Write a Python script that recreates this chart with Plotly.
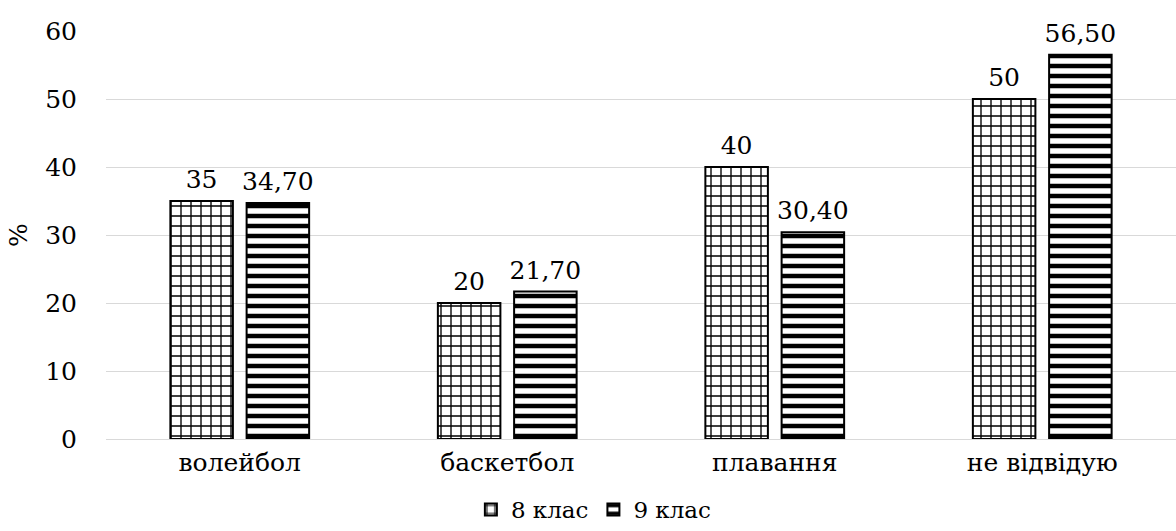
import plotly.graph_objects as go

# Sports sections attended, by grade (%)
categories = ["волейбол", "баскетбол", "плавання", "не відвідую"]
grade8 = [35, 20, 40, 50]
grade9 = [34.70, 21.70, 30.40, 56.50]
series_names = ["8 клас", "9 клас"]
y_ticks = [0, 10, 20, 30, 40, 50, 60]

FONT = "DejaVu Serif"
GAP = 0.43

fig = go.Figure()
fig.add_trace(go.Bar(
    name=series_names[0], x=categories, y=grade8, offsetgroup="g8",
    marker=dict(color="white", line=dict(color="black", width=2),
                pattern=dict(shape="+", fgcolor="black", bgcolor="white",
                             fgopacity=1, size=10, solidity=0.25,
                             fillmode="overlay")),
))
fig.add_trace(go.Bar(
    name=series_names[1], x=categories, y=grade9, offsetgroup="g9",
    marker=dict(color="white", line=dict(color="black", width=2),
                pattern=dict(shape="-", fgcolor="black", bgcolor="white",
                             fgopacity=1, size=10, solidity=0.45,
                             fillmode="overlay")),
))

# value labels above each bar
for vals, grp, fmt in [(grade8, "g8", "%{y}"), (grade9, "g9", "%{y:.2f}")]:
    fig.add_trace(go.Scatter(
        x=categories, y=vals, offsetgroup=grp, mode="markers+text",
        marker=dict(size=9, color="rgba(0,0,0,0)"),
        texttemplate=fmt, textposition="top center",
        textfont=dict(family=FONT, size=25, color="black"),
        showlegend=False, hoverinfo="skip", cliponaxis=False,
    ))

fig.update_layout(
    width=1176, height=531,
    margin=dict(l=106, r=0, t=31, b=92),
    paper_bgcolor="white", plot_bgcolor="white",
    separators=", ",
    barmode="group", bargap=GAP, bargroupgap=0.18,
    scattermode="group", scattergap=GAP,
    font=dict(family=FONT, size=25, color="black"),
    showlegend=True,
    legend=dict(orientation="h", xref="container", x=0.505, xanchor="center",
                yref="container", y=-0.04, yanchor="bottom",
                font=dict(family=FONT, size=23, color="black"),
                itemwidth=30, tracegroupgap=0, bgcolor="rgba(0,0,0,0)"),
    xaxis=dict(showgrid=False, showline=False, zeroline=False,
               tickfont=dict(family=FONT, size=25, color="black"),
               ticklabelstandoff=6),
    yaxis=dict(range=[0, 60], tickvals=y_ticks, showgrid=True,
               gridcolor="#d9d9d9", gridwidth=1, zeroline=True,
               zerolinecolor="#d9d9d9", zerolinewidth=1, showline=False,
               tickfont=dict(family=FONT, size=25, color="black"),
               ticklabelstandoff=28,
               title=dict(text="%", font=dict(family=FONT, size=25, color="black"),
                          standoff=10)),
)

fig.write_html("out.html")
